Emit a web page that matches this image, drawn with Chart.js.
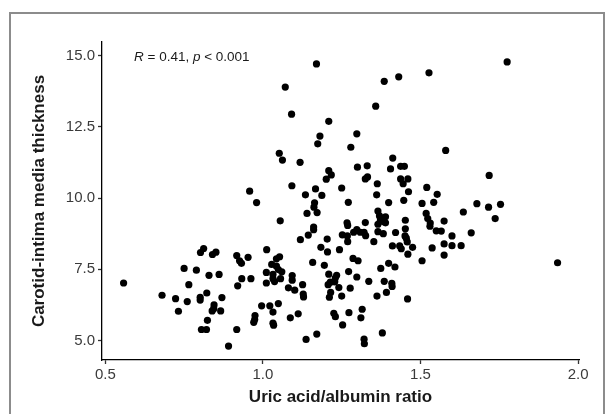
<!DOCTYPE html>
<html>
<head>
<meta charset="utf-8">
<script src="https://cdn.jsdelivr.net/npm/chart.js@4"></script>
<style>
  html, body { margin: 0; padding: 0; background: #fff; }
  #wrap { width: 609px; height: 414px; position: relative; }
</style>
</head>
<body>
<div id="wrap"><canvas id="scatterChart" width="609" height="414"></canvas></div>
<script>
// uric acid / albumin ratio (x) and carotid IMT (y)
const uricAlbumin = [
  1.170, 1.775, 1.527, 1.431, 1.385, 1.071, 1.358, 1.091, 1.209, 1.298,
  1.181, 1.174, 1.279, 1.580, 1.052, 1.062, 1.412, 1.118, 1.300, 1.331,
  1.405, 1.437, 1.449, 1.209, 1.217, 1.201, 1.332, 1.325, 1.718, 1.437,
  1.460, 1.363, 1.445, 1.092, 1.250, 1.520, 1.167, 0.958, 1.462, 1.187,
  1.135, 1.361, 1.553, 0.980, 1.271, 1.399, 1.447, 1.505, 1.542, 1.679,
  1.716, 1.754, 1.164, 1.162, 1.140, 1.172, 1.365, 1.370, 1.389, 1.518,
  1.636, 1.737, 1.055, 1.452, 1.523, 1.575, 1.267, 1.269, 1.325, 1.373,
  1.389, 1.365, 1.530, 1.161, 1.161, 1.298, 1.309, 1.288, 1.321, 1.365,
  1.382, 1.421, 1.452, 1.550, 1.566, 1.661, 1.144, 1.252, 1.268, 1.326,
  1.451, 1.600, 1.119, 1.204, 1.269, 1.458, 1.352, 1.411, 1.434, 1.439,
  1.475, 1.537, 1.575, 1.600, 1.629, 1.184, 1.243, 1.012, 1.205, 1.460,
  1.575, 0.812, 0.802, 0.851, 0.840, 0.917, 0.953, 0.926, 0.932, 1.053,
  1.043, 1.286, 1.302, 1.505, 1.935, 1.158, 1.399, 1.195, 1.419, 1.374,
  0.750, 0.789, 1.028, 1.043, 1.049, 1.060, 1.011, 1.032, 1.093, 0.829,
  0.861, 1.209, 1.234, 1.272, 0.933, 0.962, 1.032, 1.056, 1.093, 1.230,
  1.298, 0.558, 1.011, 1.037, 1.214, 1.228, 1.336, 1.385, 1.409, 1.207,
  1.126, 0.765, 1.241, 0.920, 1.410, 1.277, 1.081, 1.101, 1.215, 1.392,
  0.822, 1.128, 0.680, 1.250, 1.362, 1.129, 0.723, 0.801, 0.870, 1.211,
  1.459, 0.801, 0.760, 1.049, 0.845, 0.996, 1.022, 0.844, 0.839, 0.866,
  0.732, 1.315, 1.032, 1.273, 1.225, 1.112, 1.230, 0.975, 1.087, 1.311,
  0.974, 0.824, 0.971, 1.032, 1.034, 1.253, 0.917, 0.805, 0.821, 1.379,
  1.171, 1.137, 1.321, 1.322, 0.891, 1.383, 1.455, 1.531
];
const imtValues = [
  14.70, 14.77, 14.39, 14.25, 14.09, 13.89, 13.22, 12.94, 12.69, 12.25,
  12.17, 11.90, 11.78, 11.67, 11.57, 11.33, 11.40, 11.25, 11.08, 11.13,
  11.02, 11.11, 11.11, 10.96, 10.81, 10.66, 10.74, 10.67, 10.79, 10.67,
  10.67, 10.50, 10.50, 10.43, 10.35, 10.37, 10.32, 10.24, 10.22, 10.09,
  10.11, 10.11, 10.13, 9.84, 9.85, 9.84, 9.92, 9.81, 9.85, 9.80,
  9.68, 9.78, 9.83, 9.68, 9.46, 9.49, 9.54, 9.37, 9.34, 9.46,
  9.51, 9.28, 9.20, 9.22, 9.28, 9.19, 9.13, 9.04, 9.14, 9.22,
  9.13, 9.08, 9.01, 8.98, 8.89, 8.89, 8.80, 8.80, 8.80, 8.82,
  8.75, 8.79, 8.92, 8.85, 8.84, 8.78, 8.70, 8.71, 8.67, 8.68,
  8.67, 8.67, 8.54, 8.56, 8.47, 8.46, 8.47, 8.32, 8.32, 8.22,
  8.27, 8.25, 8.39, 8.33, 8.33, 8.27, 8.19, 8.19, 8.11, 8.03,
  8.00, 8.23, 8.09, 8.10, 8.02, 7.98, 7.92, 7.80, 7.71, 7.94,
  7.87, 7.88, 7.80, 7.80, 7.73, 7.74, 7.71, 7.64, 7.58, 7.53,
  7.53, 7.47, 7.67, 7.61, 7.49, 7.41, 7.39, 7.32, 7.28, 7.29,
  7.32, 7.33, 7.29, 7.42, 7.17, 7.17, 7.17, 7.17, 7.12, 7.20,
  7.23, 7.02, 7.02, 7.07, 7.05, 7.06, 7.08, 7.08, 7.01, 6.96,
  6.96, 6.96, 6.86, 6.92, 6.90, 6.84, 6.85, 6.77, 6.69, 6.69,
  6.67, 6.63, 6.59, 6.56, 6.56, 6.53, 6.47, 6.52, 6.51, 6.52,
  6.46, 6.42, 6.37, 6.30, 6.25, 6.22, 6.22, 6.12, 6.04, 6.04,
  6.03, 6.10, 6.00, 5.98, 5.96, 5.94, 5.84, 5.88, 5.80, 5.80,
  5.74, 5.71, 5.64, 5.61, 5.54, 5.55, 5.39, 5.39, 5.39, 5.27,
  5.23, 5.04, 5.05, 4.89, 4.81, 9.17, 8.59, 9.12
];
const xTicks = [0.5, 1.0, 1.5, 2.0];
const yTicks = [5.0, 7.5, 10.0, 12.5, 15.0];

const points = uricAlbumin.map((x, i) => ({ x: x, y: imtValues[i] }));

const frameAndNote = {
  id: 'frameAndNote',
  beforeDraw(chart) {
    const c = chart.ctx;
    c.save();
    c.strokeStyle = '#8c8c8c';
    c.lineWidth = 2;
    c.beginPath();
    c.moveTo(10, 414);
    c.lineTo(10, 13);
    c.lineTo(604, 13);
    c.lineTo(604, 414);
    c.stroke();
    c.restore();
  },
  afterDraw(chart) {
    const c = chart.ctx;
    c.save();
    c.fillStyle = '#1a1a1a';
    c.textBaseline = 'alphabetic';
    let x = 134;
    const y = 61;
    const parts = [
      ['italic 13.5px "Liberation Sans"', 'R'],
      ['13.5px "Liberation Sans"', ' = 0.41, '],
      ['italic 13.5px "Liberation Sans"', 'p'],
      ['13.5px "Liberation Sans"', ' < 0.001']
    ];
    parts.forEach(([font, txt]) => {
      c.font = font;
      c.fillText(txt, x, y);
      x += c.measureText(txt).width;
    });
    c.restore();
  }
};

const ctx = document.getElementById('scatterChart');
const scatterChart = new Chart(ctx, {
  type: 'scatter',
  data: {
    datasets: [{
      data: points,
      backgroundColor: '#000',
      borderWidth: 0,
      pointRadius: 3.6,
      pointHoverRadius: 3.6
    }]
  },
  options: {
    responsive: false,
    animation: false,
    events: [],
    layout: { padding: { top: 42, right: 30, left: 0, bottom: 0 } },
    plugins: {
      legend: { display: false },
      tooltip: { enabled: false }
    },
    scales: {
      x: {
        type: 'linear',
        min: 0.4895,
        max: 2.003,
        afterBuildTicks: s => { s.ticks = xTicks.map(v => ({ value: v })); },
        afterFit: s => { s.height = 54; },
        border: { display: true, color: '#000', width: 1.3 },
        grid: { drawOnChartArea: false, drawTicks: true, tickLength: 4, tickColor: '#333', tickWidth: 1.3 },
        ticks: {
          color: '#3a3a3a',
          padding: 2,
          font: { family: 'Liberation Sans', size: 15 },
          callback: v => Number(v).toFixed(1)
        },
        title: {
          display: true,
          text: 'Uric acid/albumin ratio',
          color: '#1a1a1a',
          font: { family: 'Liberation Sans', size: 17, weight: 'bold' },
          padding: { top: 0, bottom: 6 }
        }
      },
      y: {
        type: 'linear',
        min: 4.32,
        max: 15.47,
        afterBuildTicks: s => { s.ticks = yTicks.map(v => ({ value: v })); },
        afterFit: s => { s.width = 102; },
        border: { display: true, color: '#000', width: 1.3 },
        grid: { drawOnChartArea: false, drawTicks: true, tickLength: 4, tickColor: '#333', tickWidth: 1.3 },
        ticks: {
          color: '#3a3a3a',
          padding: 3,
          font: { family: 'Liberation Sans', size: 15 },
          callback: v => Number(v).toFixed(1)
        },
        title: {
          display: true,
          text: 'Carotid-intima media thickness',
          color: '#1a1a1a',
          font: { family: 'Liberation Sans', size: 17, weight: 'bold' },
          padding: { top: 29, bottom: 0 }
        }
      }
    }
  },
  plugins: [frameAndNote]
});
</script>
</body>
</html>
